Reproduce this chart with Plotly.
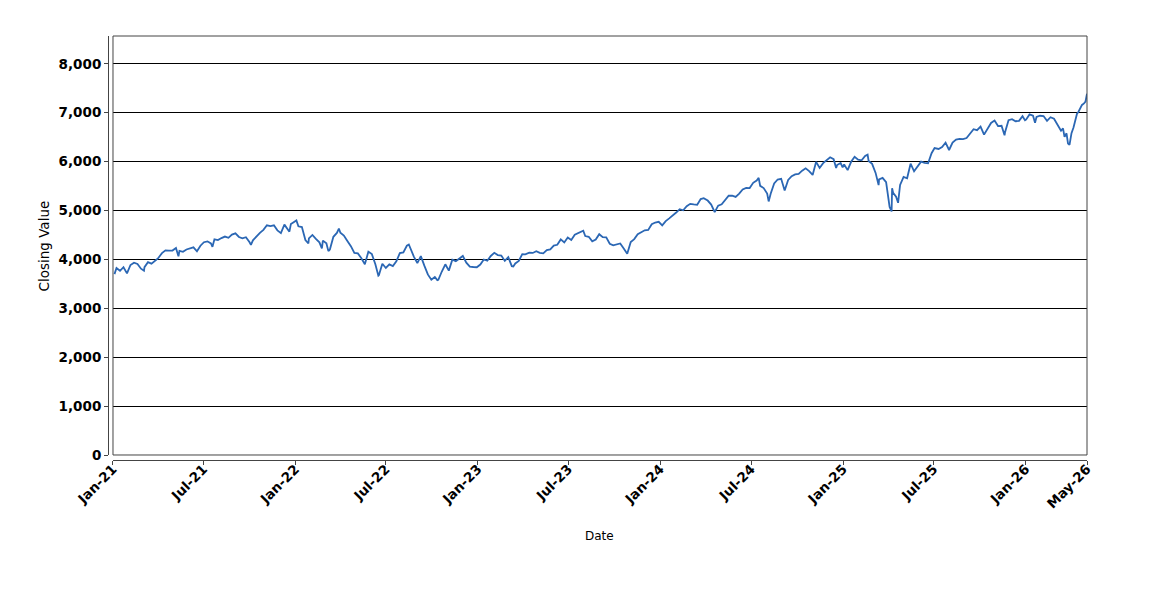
import plotly.graph_objects as go

# =========================
# DATA (weekly closes, plus a few daily extremes)
# =========================
DATES_2021 = [
    "2021-01-04", "2021-01-08", "2021-01-15", "2021-01-22", "2021-01-29",
    "2021-02-05", "2021-02-12", "2021-02-19", "2021-02-26", "2021-03-04",
    "2021-03-05", "2021-03-12", "2021-03-19", "2021-03-26", "2021-04-01",
    "2021-04-09", "2021-04-16", "2021-04-23", "2021-04-30", "2021-05-07",
    "2021-05-12", "2021-05-14", "2021-05-21", "2021-05-28", "2021-06-04",
    "2021-06-11", "2021-06-18", "2021-06-25", "2021-07-02", "2021-07-09",
    "2021-07-16", "2021-07-19", "2021-07-23", "2021-07-30", "2021-08-06",
    "2021-08-13", "2021-08-20", "2021-08-27", "2021-09-03", "2021-09-10",
    "2021-09-17", "2021-09-24", "2021-10-01", "2021-10-04", "2021-10-08",
    "2021-10-15", "2021-10-22", "2021-10-29", "2021-11-05", "2021-11-12",
    "2021-11-19", "2021-11-26", "2021-11-30", "2021-12-03", "2021-12-10",
    "2021-12-17", "2021-12-20", "2021-12-23", "2021-12-31",
]
CLOSES_2021 = [
    3700, 3824, 3768, 3841, 3714,
    3886, 3934, 3906, 3811, 3768,
    3842, 3943, 3913, 3974, 4020,
    4129, 4185, 4180, 4181, 4233,
    4063, 4174, 4156, 4204, 4230,
    4247, 4166, 4281, 4352, 4370,
    4327, 4258, 4412, 4395, 4437,
    4468, 4442, 4509, 4535, 4459,
    4433, 4455, 4357, 4300, 4391,
    4471, 4545, 4605, 4698, 4683,
    4698, 4595, 4567, 4538, 4712,
    4620, 4568, 4726, 4766,
]

DATES_2022 = [
    "2022-01-03", "2022-01-07", "2022-01-14", "2022-01-21", "2022-01-27",
    "2022-01-28", "2022-02-04", "2022-02-11", "2022-02-18", "2022-02-23",
    "2022-02-25", "2022-03-04", "2022-03-08", "2022-03-11", "2022-03-18",
    "2022-03-25", "2022-03-29", "2022-04-01", "2022-04-08", "2022-04-14",
    "2022-04-22", "2022-04-29", "2022-05-06", "2022-05-13", "2022-05-20",
    "2022-05-27", "2022-06-03", "2022-06-10", "2022-06-16", "2022-06-17",
    "2022-06-24", "2022-07-01", "2022-07-08", "2022-07-15", "2022-07-22",
    "2022-07-29", "2022-08-05", "2022-08-12", "2022-08-16", "2022-08-19",
    "2022-08-26", "2022-09-02", "2022-09-09", "2022-09-16", "2022-09-23",
    "2022-09-30", "2022-10-07", "2022-10-12", "2022-10-14", "2022-10-21",
    "2022-10-28", "2022-11-04", "2022-11-11", "2022-11-18", "2022-11-25",
    "2022-12-02", "2022-12-09", "2022-12-16", "2022-12-23", "2022-12-30",
]
CLOSES_2022 = [
    4797, 4677, 4663, 4398, 4326,
    4432, 4501, 4419, 4349, 4225,
    4385, 4329, 4170, 4204, 4463,
    4543, 4632, 4546, 4488, 4393,
    4272, 4132, 4123, 4024, 3901,
    4158, 4109, 3901, 3667, 3675,
    3912, 3825, 3899, 3863, 3962,
    4130, 4145, 4280, 4305, 4228,
    4058, 3924, 4067, 3873, 3693,
    3586, 3640, 3577, 3583, 3753,
    3901, 3771, 3993, 3965, 4026,
    4072, 3934, 3852, 3845, 3840,
]

DATES_2023 = [
    "2023-01-06", "2023-01-13", "2023-01-20", "2023-01-27", "2023-02-03",
    "2023-02-10", "2023-02-17", "2023-02-24", "2023-03-03", "2023-03-10",
    "2023-03-13", "2023-03-17", "2023-03-24", "2023-03-31", "2023-04-06",
    "2023-04-14", "2023-04-21", "2023-04-28", "2023-05-05", "2023-05-12",
    "2023-05-19", "2023-05-26", "2023-06-02", "2023-06-09", "2023-06-16",
    "2023-06-23", "2023-06-30", "2023-07-07", "2023-07-14", "2023-07-21",
    "2023-07-28", "2023-07-31", "2023-08-04", "2023-08-11", "2023-08-18",
    "2023-08-25", "2023-09-01", "2023-09-08", "2023-09-15", "2023-09-22",
    "2023-09-29", "2023-10-06", "2023-10-13", "2023-10-20", "2023-10-27",
    "2023-11-03", "2023-11-10", "2023-11-17", "2023-11-24", "2023-12-01",
    "2023-12-08", "2023-12-15", "2023-12-22", "2023-12-29",
]
CLOSES_2023 = [
    3895, 3999, 3973, 4071, 4136,
    4090, 4079, 3970, 4046, 3862,
    3855, 3917, 3971, 4109, 4105,
    4138, 4133, 4169, 4136, 4124,
    4192, 4205, 4282, 4299, 4410,
    4348, 4450, 4399, 4505, 4536,
    4582, 4589, 4478, 4464, 4370,
    4406, 4516, 4457, 4450, 4320,
    4288, 4309, 4327, 4224, 4117,
    4358, 4415, 4514, 4559, 4595,
    4604, 4719, 4755, 4770,
]

DATES_2024 = [
    "2024-01-05", "2024-01-12", "2024-01-19", "2024-01-26", "2024-02-02",
    "2024-02-09", "2024-02-16", "2024-02-23", "2024-03-01", "2024-03-08",
    "2024-03-15", "2024-03-22", "2024-03-28", "2024-04-05", "2024-04-12",
    "2024-04-19", "2024-04-26", "2024-05-03", "2024-05-10", "2024-05-17",
    "2024-05-24", "2024-05-31", "2024-06-07", "2024-06-14", "2024-06-21",
    "2024-06-28", "2024-07-05", "2024-07-12", "2024-07-16", "2024-07-19",
    "2024-07-26", "2024-08-02", "2024-08-05", "2024-08-09", "2024-08-16",
    "2024-08-23", "2024-08-30", "2024-09-06", "2024-09-13", "2024-09-20",
    "2024-09-27", "2024-10-04", "2024-10-11", "2024-10-18", "2024-10-25",
    "2024-11-01", "2024-11-08", "2024-11-15", "2024-11-22", "2024-11-29",
    "2024-12-06", "2024-12-13", "2024-12-18", "2024-12-20", "2024-12-27",
    "2024-12-31",
]
CLOSES_2024 = [
    4697, 4784, 4840, 4891, 4959,
    5027, 5006, 5089, 5137, 5124,
    5117, 5234, 5254, 5204, 5123,
    4967, 5100, 5128, 5223, 5303,
    5305, 5278, 5347, 5432, 5465,
    5460, 5567, 5615, 5667, 5505,
    5459, 5347, 5186, 5344, 5554,
    5635, 5648, 5408, 5626, 5703,
    5738, 5751, 5815, 5864, 5808,
    5729, 5996, 5871, 5969, 6032,
    6090, 6051, 5872, 5931, 5971,
    5882,
]

DATES_2025 = [
    "2025-01-03", "2025-01-10", "2025-01-17", "2025-01-24", "2025-01-31",
    "2025-02-07", "2025-02-14", "2025-02-19", "2025-02-21", "2025-02-28",
    "2025-03-07", "2025-03-13", "2025-03-14", "2025-03-21", "2025-03-28",
    "2025-04-04", "2025-04-08", "2025-04-09", "2025-04-11", "2025-04-17",
    "2025-04-21", "2025-04-25", "2025-05-02", "2025-05-09", "2025-05-16",
    "2025-05-23", "2025-05-30", "2025-06-06", "2025-06-13", "2025-06-20",
    "2025-06-27", "2025-07-03", "2025-07-11", "2025-07-18", "2025-07-25",
    "2025-08-01", "2025-08-08", "2025-08-15", "2025-08-22", "2025-08-29",
    "2025-09-05", "2025-09-12", "2025-09-19", "2025-09-26", "2025-10-03",
    "2025-10-10", "2025-10-17", "2025-10-24", "2025-10-31", "2025-11-07",
    "2025-11-14", "2025-11-20", "2025-11-21", "2025-11-28", "2025-12-05",
    "2025-12-12", "2025-12-19", "2025-12-26", "2025-12-31",
]
CLOSES_2025 = [
    5942, 5827, 5997, 6101, 6041,
    6026, 6115, 6144, 6013, 5955,
    5770, 5521, 5639, 5668, 5581,
    5074, 4982, 5457, 5363, 5283,
    5158, 5525, 5686, 5660, 5958,
    5803, 5912, 6000, 5977, 5968,
    6173, 6279, 6260, 6297, 6389,
    6238, 6389, 6450, 6467, 6460,
    6482, 6584, 6664, 6644, 6716,
    6553, 6664, 6792, 6840, 6728,
    6734, 6538, 6603, 6849, 6870,
    6827, 6834, 6930, 6845,
]

DATES_2026 = [
    "2026-01-02", "2026-01-09", "2026-01-16", "2026-01-20", "2026-01-23",
    "2026-01-30", "2026-02-06", "2026-02-13", "2026-02-20", "2026-02-27",
    "2026-03-04", "2026-03-06", "2026-03-10", "2026-03-13", "2026-03-17",
    "2026-03-20", "2026-03-24", "2026-03-27", "2026-03-30", "2026-04-01",
    "2026-04-03", "2026-04-07", "2026-04-10", "2026-04-14", "2026-04-17",
    "2026-04-21", "2026-04-24", "2026-04-28", "2026-05-01", "2026-05-04",
]
CLOSES_2026 = [
    6858, 6966, 6940, 6797, 6915,
    6939, 6932, 6836, 6909, 6878,
    6790, 6740, 6690, 6632, 6680,
    6506, 6580, 6369, 6343, 6520,
    6582, 6700, 6816, 6980, 7020,
    7110, 7160, 7190, 7230, 7390,
]

TICK_DATES = [
    "2021-01-01", "2021-07-01", "2022-01-01", "2022-07-01", "2023-01-01",
    "2023-07-01", "2024-01-01", "2024-07-01", "2025-01-01", "2025-07-01",
    "2026-01-01", "2026-05-04",
]
TICK_LABELS = [
    "Jan-21", "Jul-21", "Jan-22", "Jul-22", "Jan-23",
    "Jul-23", "Jan-24", "Jul-24", "Jan-25", "Jul-25",
    "Jan-26", "May-26",
]

dates = DATES_2021 + DATES_2022 + DATES_2023 + DATES_2024 + DATES_2025 + DATES_2026
closes = CLOSES_2021 + CLOSES_2022 + CLOSES_2023 + CLOSES_2024 + CLOSES_2025 + CLOSES_2026

# =========================
# STYLE
# =========================
FONT = "DejaVu Sans"
LINE_COLOR = "#2b67b4"
AXIS_COLOR = "#444444"
TICK_FONT = dict(size=13.5, family=FONT, color="black", weight="bold")

fig = go.Figure(
    go.Scatter(
        x=dates,
        y=closes,
        mode="lines",
        line=dict(color=LINE_COLOR, width=1.8),
        showlegend=False,
    )
)

# the page body has an 8px margin, so the figure is 8px smaller than the window
fig.update_layout(
    width=1142,
    height=592,
    margin=dict(l=100, r=63, t=28, b=140),
    paper_bgcolor="white",
    plot_bgcolor="white",
    font=dict(family=FONT, color="black"),
    xaxis=dict(
        domain=[0.0051, 1],
        anchor="free",
        position=0,
        range=["2021-01-01", "2026-05-04"],
        tickvals=TICK_DATES,
        ticktext=TICK_LABELS,
        tickangle=-45,
        tickfont=TICK_FONT,
        ticklabelstandoff=-9,
        ticks="outside",
        ticklen=4,
        tickcolor=AXIS_COLOR,
        showline=True,
        linecolor=AXIS_COLOR,
        linewidth=1,
        showgrid=False,
        zeroline=False,
    ),
    yaxis=dict(
        domain=[0.0118, 1],
        anchor="free",
        position=0,
        range=[0, 8570],
        dtick=1000,
        tickformat=",d",
        tickfont=TICK_FONT,
        ticks="outside",
        ticklen=4,
        tickcolor=AXIS_COLOR,
        showline=True,
        linecolor=AXIS_COLOR,
        linewidth=1,
        showgrid=True,
        gridcolor="black",
        gridwidth=1,
        zeroline=False,
    ),
)

# plot box
fig.add_shape(
    type="rect", xref="x domain", yref="y domain",
    x0=0, x1=1, y0=0, y1=1,
    line=dict(color=AXIS_COLOR, width=1),
)

# axis titles
fig.add_annotation(
    text="Closing Value", xref="paper", yref="y domain",
    x=-0.0644, y=0.5, xanchor="center", yanchor="middle",
    textangle=-90, showarrow=False,
    font=dict(size=13.5, family=FONT, color="black"),
)
fig.add_annotation(
    text="Date", xref="x domain", yref="paper",
    x=0.5, y=-0.179, xanchor="center", yanchor="middle",
    showarrow=False,
    font=dict(size=12, family=FONT, color="black"),
)

fig.write_html("out.html")
